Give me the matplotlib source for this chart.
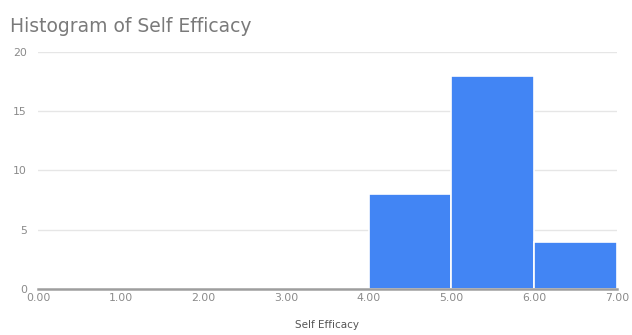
import matplotlib
matplotlib.use("Agg")
import matplotlib.pyplot as plt

# Histogram bins (left edges) and counts of Self Efficacy scores
bin_starts = [0.0, 1.0, 2.0, 3.0, 4.0, 5.0, 6.0]
counts = [0, 0, 0, 0, 8, 18, 4]
bin_width = 1.0

x_ticks = [0, 1, 2, 3, 4, 5, 6, 7]
x_tick_labels = ["0.00", "1.00", "2.00", "3.00", "4.00", "5.00", "6.00", "7.00"]
y_ticks = [0, 5, 10, 15, 20]

plt.rcParams["font.family"] = ["DejaVu Sans"]

fig = plt.figure(figsize=(6.32, 3.35), dpi=100)
ax = fig.add_axes([0.0601, 0.1373, 0.9160, 0.7075])

ax.bar(bin_starts, counts, width=bin_width, align="edge",
       color="#4285F4", edgecolor="white", linewidth=1.2, zorder=3)

ax.set_xlim(0, 7)
ax.set_ylim(0, 20)
ax.set_xticks(x_ticks)
ax.set_xticklabels(x_tick_labels)
ax.set_yticks(y_ticks)

ax.grid(axis="y", color="#e6e6e6", linewidth=1.0, zorder=0)
ax.grid(axis="x", visible=False)
for side in ["top", "right", "left"]:
    ax.spines[side].set_visible(False)
ax.spines["bottom"].set_color("#9e9e9e")
ax.spines["bottom"].set_linewidth(1.8)
ax.spines["bottom"].set_zorder(4)

ax.tick_params(axis="both", length=0, labelsize=7.8, labelcolor="#8a8a8a")
ax.tick_params(axis="x", pad=3)
ax.tick_params(axis="y", pad=8)

ax.set_xlabel("Self Efficacy", fontsize=7.5, color="#555555", labelpad=12)
fig.text(0.016, 0.92, "Histogram of Self Efficacy", fontsize=13.5,
         color="#7a7a7a", ha="left", va="center")

fig.savefig("out.png", dpi=100, facecolor="white")
